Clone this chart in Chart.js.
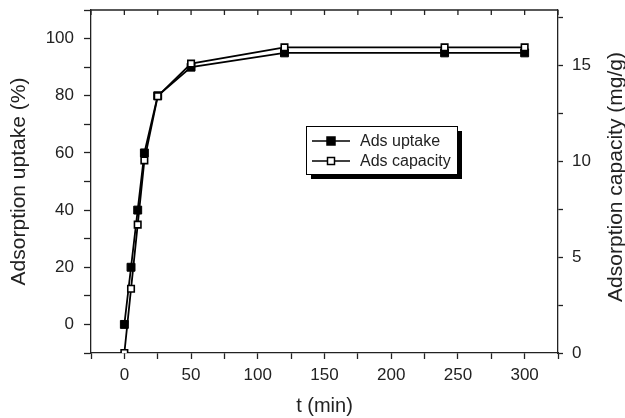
<!DOCTYPE html>
<html>
<head>
<meta charset="utf-8">
<script src="https://cdn.jsdelivr.net/npm/chart.js@4"></script>
<style>
  html, body { margin: 0; padding: 0; background: #fff; }
</style>
</head>
<body>
<canvas id="kineticsChart" width="625" height="418"></canvas>
<script>
// values
const times = [0, 5, 10, 15, 25, 50, 120, 240, 300];
const uptake = [0, 20, 40, 60, 80, 90, 95, 95, 95];
const capacity = [0, 3.35, 6.7, 10.05, 13.4, 15.1, 15.95, 15.95, 15.95];
const seriesNames = ['Ads uptake', 'Ads capacity'];
const xTickLabels = [0, 50, 100, 150, 200, 250, 300];
const leftTickLabels = [0, 20, 40, 60, 80, 100];
const rightTickLabels = [0, 5, 10, 15];

const FONT = '"Liberation Sans", Arial, sans-serif';
const INK = '#222';

const toPoints = vals => vals.map((v, i) => ({ x: times[i], y: v }));

// keep the plot box fixed, no extra room for half tick labels
const fixV = w => s => { s.width = w; s.paddingTop = 0; s.paddingBottom = 0; };
const fixH = h => s => { s.height = h; s.paddingLeft = 0; s.paddingRight = 0; };

// top frame line with inward ticks, right title (reads upwards) and boxed legend
const extras = {
  id: 'extras',
  afterDraw(chart) {
    const { ctx, chartArea: a, scales } = chart;
    ctx.save();
    ctx.strokeStyle = INK;
    ctx.lineWidth = 1.3;
    ctx.beginPath();
    ctx.moveTo(a.left, a.top);
    ctx.lineTo(a.right, a.top);
    scales.x.ticks.forEach(t => {
      const px = scales.x.getPixelForValue(t.value);
      ctx.moveTo(px, a.top);
      ctx.lineTo(px, a.top + 5);
    });
    ctx.stroke();

    ctx.fillStyle = INK;
    ctx.font = '21px ' + FONT;
    ctx.textAlign = 'center';
    ctx.textBaseline = 'middle';
    ctx.save();
    ctx.translate(616, 177);
    ctx.rotate(-Math.PI / 2);
    ctx.fillText('Adsorption capacity (mg/g)', 0, 0);
    ctx.restore();

    // legend box with drop shadow
    const bx = 306, by = 126, bw = 151, bh = 48;
    ctx.fillStyle = '#000';
    ctx.fillRect(bx + 5, by + 5, bw, bh);
    ctx.fillStyle = '#fff';
    ctx.fillRect(bx, by, bw, bh);
    ctx.lineWidth = 1;
    ctx.strokeStyle = '#000';
    ctx.strokeRect(bx + 0.5, by + 0.5, bw, bh);

    chart.data.datasets.forEach((ds, i) => {
      const ly = by + 15 + i * 20;
      ctx.strokeStyle = '#000';
      ctx.lineWidth = 1.6;
      ctx.beginPath();
      ctx.moveTo(bx + 6, ly);
      ctx.lineTo(bx + 44, ly);
      ctx.stroke();
      const s = i === 0 ? 8 : 7;
      ctx.fillStyle = ds.pointBackgroundColor;
      ctx.fillRect(bx + 25 - s / 2, ly - s / 2, s, s);
      ctx.lineWidth = 1.5;
      ctx.strokeRect(bx + 25 - s / 2, ly - s / 2, s, s);
      ctx.fillStyle = INK;
      ctx.font = '16px ' + FONT;
      ctx.textAlign = 'left';
      ctx.fillText(ds.label, bx + 54, ly + 1);
    });
    ctx.restore();
  }
};

const ctx = document.getElementById('kineticsChart').getContext('2d');
const kineticsChart = new Chart(ctx, {
  type: 'line',
  data: {
    datasets: [
      {
        label: seriesNames[0],
        data: toPoints(uptake),
        yAxisID: 'y',
        borderColor: '#000',
        borderWidth: 1.8,
        pointStyle: 'rect',
        pointRadius: 5.6,
        pointBackgroundColor: '#000',
        pointBorderColor: '#000',
        pointBorderWidth: 1,
        order: 1
      },
      {
        label: seriesNames[1],
        data: toPoints(capacity),
        yAxisID: 'y2',
        borderColor: '#000',
        borderWidth: 1.8,
        pointStyle: 'rect',
        pointRadius: 4.6,
        pointBackgroundColor: '#fff',
        pointBorderColor: '#000',
        pointBorderWidth: 1.6,
        order: 0
      }
    ]
  },
  options: {
    responsive: false,
    animation: false,
    devicePixelRatio: 1,
    layout: { padding: { top: 10, left: 0, right: 0, bottom: 0 } },
    plugins: { legend: { display: false }, tooltip: { enabled: false } },
    scales: {
      x: {
        type: 'linear',
        position: 'bottom',
        min: -25,
        max: 325,
        afterFit: fixH(65),
        ticks: {
          stepSize: 25,
          autoSkip: false,
          maxRotation: 0,
          padding: 6,
          color: INK,
          font: { family: FONT, size: 17 },
          callback: v => xTickLabels.includes(v) ? v : ''
        },
        grid: { drawOnChartArea: false, tickLength: 6, tickColor: INK, tickWidth: 1.3 },
        border: { color: INK, width: 1.3 },
        title: {
          display: true,
          text: 't (min)',
          color: INK,
          font: { family: FONT, size: 20 },
          padding: { top: 0, bottom: 0 }
        }
      },
      y: {
        position: 'left',
        min: -10,
        max: 110,
        afterFit: fixV(91),
        ticks: {
          stepSize: 10,
          autoSkip: false,
          padding: 10,
          color: INK,
          font: { family: FONT, size: 17 },
          callback: v => leftTickLabels.includes(v) ? v : ''
        },
        grid: { drawOnChartArea: false, tickLength: 7, tickColor: INK, tickWidth: 1.3 },
        border: { color: INK, width: 1.3 },
        title: {
          display: true,
          text: 'Adsorption uptake (%)',
          color: INK,
          font: { family: FONT, size: 21 },
          padding: { top: 7, bottom: 0 }
        }
      },
      y2: {
        position: 'right',
        min: 0,
        max: 17.9,
        afterFit: fixV(67),
        ticks: {
          stepSize: 2.5,
          includeBounds: false,
          autoSkip: false,
          padding: 9,
          color: INK,
          font: { family: FONT, size: 17 },
          callback: v => rightTickLabels.includes(v) ? v : ''
        },
        grid: { drawOnChartArea: false, tickLength: 5, tickColor: INK, tickWidth: 1.3 },
        border: { color: INK, width: 1.3 }
      }
    }
  },
  plugins: [extras]
});
</script>
</body>
</html>
